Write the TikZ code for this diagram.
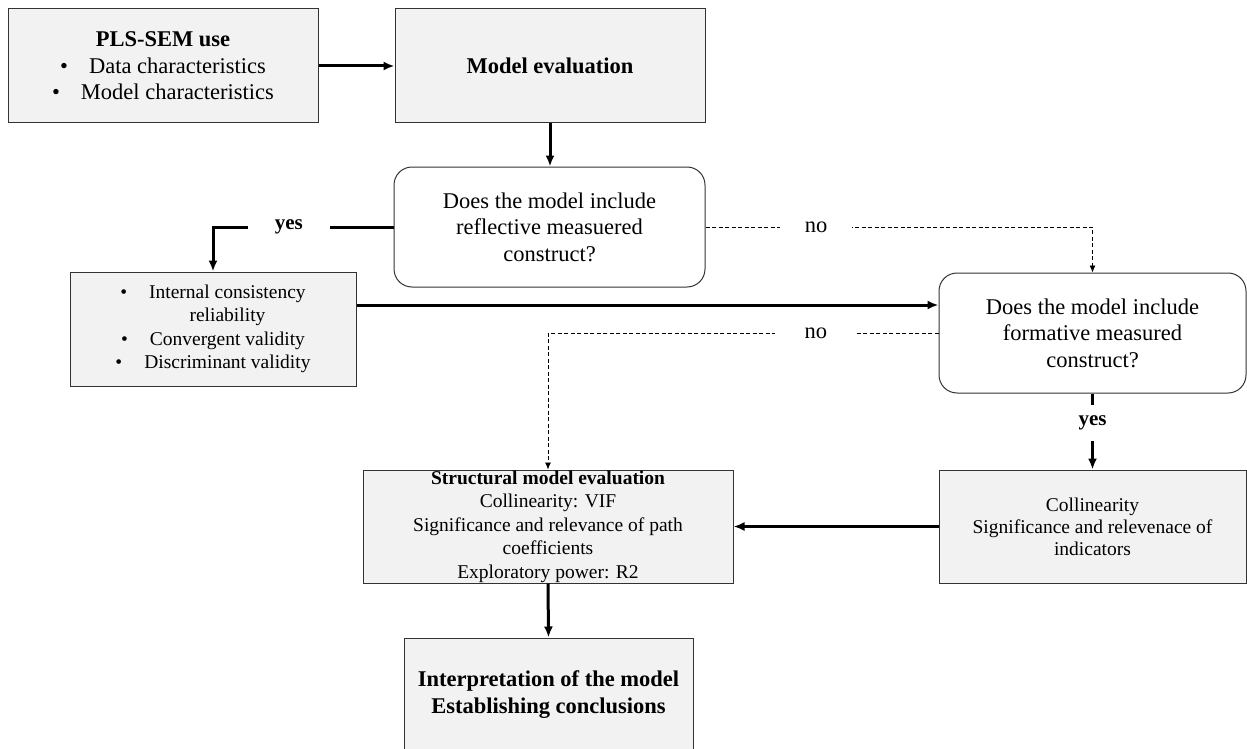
\documentclass[tikz,border=0pt]{standalone}
\usepackage{fontspec}
\setmainfont{Liberation Serif}
\usetikzlibrary{arrows.meta}
\definecolor{boxgray}{RGB}{242,242,242}

\begin{document}
\begin{tikzpicture}[
x={(1pt, 0pt)}, y={(0pt, -1pt)},
% #region Picture settings %
big/.style={font=\fontsize{22.5}{26.5}\selectfont},
small/.style={font=\fontsize{19.5}{23.5}\selectfont},
box/.style={draw=black!80, line width=1pt, fill=boxgray, inner sep=0pt, align=center},
quest/.style={draw=black!80, line width=1pt, fill=white, rounded corners=18pt, inner sep=0pt, align=center, big},
ev/.style={-{Latex[length=11pt, width=9pt]}, line width=3pt},
evd/.style={-{Latex[length=7pt, width=6pt]}, line width=0.8pt, dash pattern=on 4pt off 2.5pt},
lbl/.style={fill=white, inner ysep=2pt, big},
% #endregion Picture settings %
]

\useasboundingbox (0,0) rectangle (1247,749);

\node[box, big, minimum width=310pt, minimum height=114pt] (use) at (163,66) {\textbf{PLS-SEM use}\\ \textbullet\hspace{21pt}Data characteristics\\ \textbullet\hspace{21pt}Model characteristics};
\node[box, big, minimum width=310pt, minimum height=114pt] (evalm) at (550,66) {\textbf{Model evaluation}};
\node[quest, minimum width=311pt, minimum height=120pt] (refl) at (549.5,227) {Does the model include\\ reflective measuered\\ construct?};
\node[box, small, minimum width=286pt, minimum height=114pt] (meas) at (213,329) {\textbullet\hspace{22pt}Internal consistency\\ \hspace*{29pt}reliability\\ \textbullet\hspace{22pt}Convergent validity\\ \textbullet\hspace{22pt}Discriminant validity};
\node[quest, minimum width=307pt, minimum height=120pt] (form) at (1092.5,333) {Does the model include\\ formative measured\\ construct?};
\node[box, small, minimum width=307pt, minimum height=113pt, font=\fontsize{19.5}{22}\selectfont] (colln) at (1092.5,526.5) {Collinearity\\ Significance and relevenace of\\ indicators};
\node[box, small, minimum width=370pt, minimum height=113pt] (struct) at (548,526.5) {\textbf{Structural model evaluation}\\ Collinearity: VIF\\ Significance and relevance of path\\ coefficients\\ Exploratory power: R2};
\node[box, big, minimum width=289pt, minimum height=113pt, font=\fontsize{22.5}{27}\selectfont] (interp) at (548.5,694.5) {\textbf{Interpretation of the model}\\ \textbf{Establishing conclusions}};


\draw[ev] (use) -- (evalm);
\draw[ev] (evalm.south) -- (evalm.south |- refl.north);

\draw[ev] (refl.west) -| node[lbl, pos=0.29, inner xsep=27pt, font=\fontsize{21}{24}\selectfont] (yes1) {\textbf{yes}} (meas.north);
\draw[evd] (refl.east) -| node[lbl, pos=0.143, inner xsep=25pt] (no1) {no} (form.north);

\draw[ev] ([yshift=24pt]meas.east) -- ([yshift=24pt]meas.east -| form.west);
\draw[evd] (form.west) -| node[lbl, pos=0.157, inner xsep=30pt] (no2) {no} (struct.north);

\draw[ev] (form.south) -- node[lbl, pos=0.39, inner ysep=11pt, inner xsep=4pt, font=\fontsize{21}{24}\selectfont] (yes2) {\textbf{yes}} (colln.north);
\draw[ev] (colln.west) -- (struct.east);
\draw[ev] (struct.south) -- (interp.north);

\end{tikzpicture}
\end{document}
